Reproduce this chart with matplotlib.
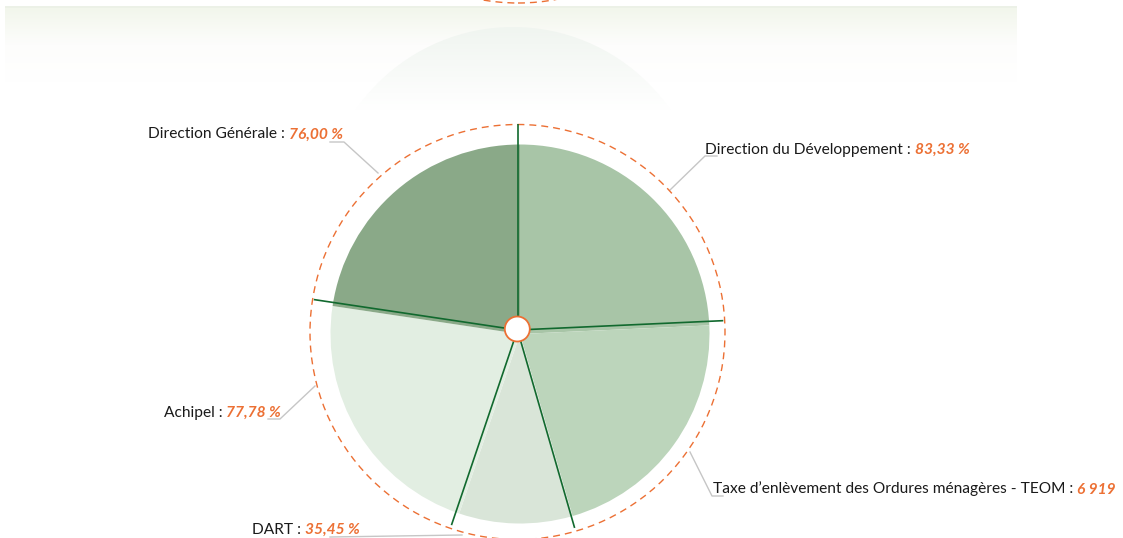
import matplotlib
matplotlib.use("Agg")
import matplotlib.pyplot as plt
import numpy as np
from matplotlib.patches import Circle, Rectangle
from matplotlib.colors import LinearSegmentedColormap

# ---------------- data ----------------
categories = ["Direction du Développement",
              "Taxe d\u2019enlèvement des Ordures ménagères - TEOM",
              "DART",
              "Achipel",
              "Direction Générale"]
value_labels = ["83,33 %", "6 919", "35,45 %", "77,78 %", "76,00 %"]
slice_shares = [87.4, 76.5, 34.8, 79.8, 81.5]   # angular share
slice_colors = ["#a8c5a7", "#bcd5bb", "#d9e5d8", "#e2eee2", "#8aa988"]

W, H = 1123, 538
FONT = "Lato"
ORANGE = "#ec7034"

fig = plt.figure(figsize=(W / 100, H / 100), dpi=100)
ax = fig.add_axes([0, 0, 1, 1])


def Y(y):
    return H - y


# ---------------- pie ----------------
pie_center = (520, Y(334))
ax.pie(slice_shares, colors=slice_colors, startangle=90, counterclock=False,
       radius=189.5, center=pie_center, wedgeprops=dict(linewidth=0), frame=True)
ax.set_xlim(0, W)
ax.set_ylim(0, H)
ax.set_aspect("auto")

# ---------------- faint header band ----------------
band = np.linspace(0, 1, 100).reshape(-1, 1)
cmap_band = LinearSegmentedColormap.from_list("band", ["#f2f6ec", "#fdfdfc", "#ffffff"])
ax.imshow(band, cmap=cmap_band, extent=[5, 1017, Y(82), Y(8)], aspect="auto",
          origin="upper", zorder=0, interpolation="bilinear")
ax.add_patch(Rectangle((5, Y(8)), 1012, 2, facecolor="#ecf1e7", edgecolor="none", zorder=0.5))

# faint dome
cmap_dome = LinearSegmentedColormap.from_list("dome", ["#f0f5f0", "#ffffff"])
dome = np.linspace(0, 1, 100).reshape(-1, 1)
im = ax.imshow(dome, cmap=cmap_dome, extent=[320, 710, Y(110), Y(27)], aspect="auto",
               origin="upper", zorder=0.6, interpolation="bilinear")
clip = Circle((513, Y(218)), 191, transform=ax.transData)
im.set_clip_path(clip)

# orange arc of a chart above (cut off)
ax.add_patch(Circle((518, Y(-204)), 207, fill=False, edgecolor=ORANGE, lw=1.0,
                    linestyle=(0, (5, 3.6)), zorder=1))

# outer dashed circle
ring_center = (517.5, Y(332))
ax.add_patch(Circle(ring_center, 207.5, fill=False, edgecolor=ORANGE, lw=1.0,
                    linestyle=(0, (5, 3.6)), zorder=3))

# separator lines
line_center = (517.5, Y(330))
bounds = 90 - np.concatenate([[0], np.cumsum(slice_shares)]) / np.sum(slice_shares) * 360
for a in bounds[:-1]:
    r = np.deg2rad(a)
    ax.plot([line_center[0], line_center[0] + 206 * np.cos(r)],
            [line_center[1], line_center[1] + 206 * np.sin(r)],
            color="#11692e", lw=1.2, zorder=4, solid_capstyle="butt")

# centre dot
ax.add_patch(Circle((517.3, Y(329)), 12.5, facecolor="white", edgecolor=ORANGE,
                    lw=1.3, zorder=5))

# ---------------- leaders ----------------
leaders = [
    [(670, 190), (705, 156), (717, 156)],
    [(690, 452), (712, 496), (723, 496)],
    [(330, 537), (462, 535)],
    [(315, 386), (280, 419), (268, 419)],
    [(378, 173), (344, 142), (330, 142)],
]
for pts in leaders:
    xs = [p[0] for p in pts]
    ys = [Y(p[1]) for p in pts]
    ax.plot(xs, ys, color="#c6c6c6", lw=1.0, zorder=2)

# ---------------- labels ----------------
label_pos = [("left", 705, 154), ("left", 713, 493.5), ("left", 252, 533.5),
             ("right", 281, 416.5), ("right", 343, 138.5)]
fs = 11.2
renderer = fig.canvas.get_renderer()
inv = ax.transData.inverted()
for name, val, (ha, x, yb) in zip(categories, value_labels, label_pos):
    if ha == "left":
        t1 = ax.text(x, Y(yb), name + " : ", ha="left", va="baseline", fontsize=fs,
                     family=FONT, color="#1a1a1a", zorder=6)
        bb = t1.get_window_extent(renderer)
        xx = inv.transform((bb.x1, 0))[0]
        ax.text(xx, Y(yb), val, ha="left", va="baseline", fontsize=fs, family=FONT,
                color=ORANGE, fontweight="bold", fontstyle="italic", zorder=6)
    else:
        t2 = ax.text(x, Y(yb), val, ha="right", va="baseline", fontsize=fs, family=FONT,
                     color=ORANGE, fontweight="bold", fontstyle="italic", zorder=6)
        bb = t2.get_window_extent(renderer)
        xx = inv.transform((bb.x0, 0))[0]
        ax.text(xx, Y(yb), name + " : ", ha="right", va="baseline", fontsize=fs,
                family=FONT, color="#1a1a1a", zorder=6)

ax.axis("off")
fig.savefig("out.png", dpi=100)
